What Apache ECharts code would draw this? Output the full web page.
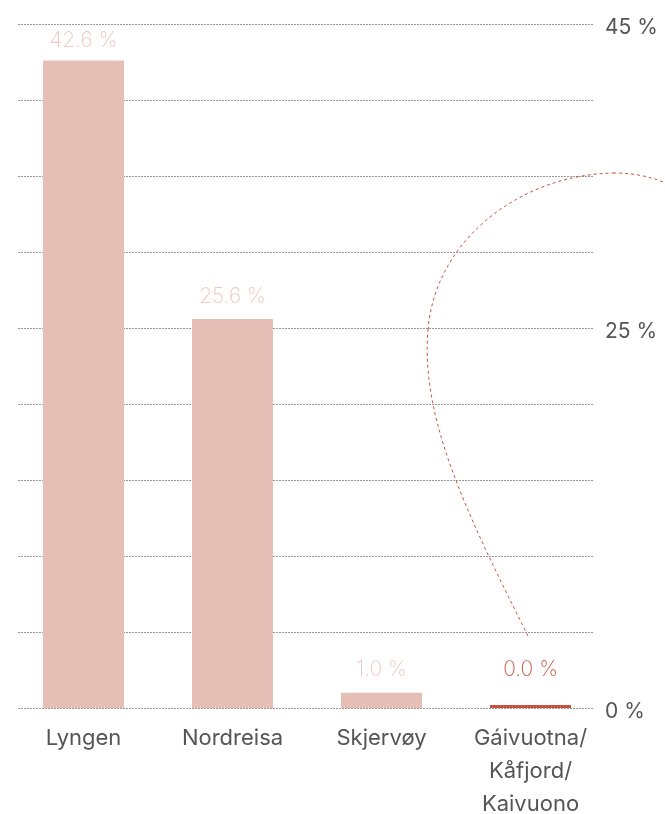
<!DOCTYPE html>
<html>
<head>
<meta charset="utf-8">
<style>
html,body{margin:0;padding:0;background:#fff;}
#chart{width:665px;height:814px;}
</style>
<script src="https://cdn.jsdelivr.net/npm/echarts@6/dist/echarts.min.js"></script>
</head>
<body>
<div id="chart"></div>
<script>
const categories = ['Lyngen', 'Nordreisa', 'Skjervøy', 'Gáivuotna/\nKåfjord/\nKaivuono'];
const values = [42.6, 25.6, 1.0, 0.0];
const yTickLabels = [0, 25, 45];
const yMax = 45;
const yStep = 5;

const barColor = '#e5bfb5';
const highlightColor = '#c9503c';
const labelPink = '#efc6bb';
const labelDistances = [9, 12, 13, 25];

const chart = echarts.init(document.getElementById('chart'));
const data = values.map((v, i) => {
  const last = i === values.length - 1;
  return {
    value: v,
    itemStyle: { color: last ? highlightColor : barColor },
    label: { color: last ? highlightColor : labelPink, distance: labelDistances[i] }
  };
});

const curveStyle = { fill: null, stroke: highlightColor, lineWidth: 1, lineDash: [3, 3] };
const curveSegs = [
  [528, 636, 470, 520, 420, 420, 428, 330],
  [428, 330, 435, 240, 520, 175, 613, 173],
  [613, 173, 635, 173, 652, 177, 668, 184]
];

chart.setOption({
  animation: false,
  grid: [
    { left: 9, right: 60, top: 24, bottom: 106, outerBoundsMode: 'none', containLabel: false },
    { left: 18, right: 71, top: 24, bottom: 106, outerBoundsMode: 'none', containLabel: false }
  ],
  xAxis: [
    {
      gridIndex: 0, type: 'category', data: categories,
      axisLine: { show: false }, axisTick: { show: false },
      axisLabel: { color: '#555', fontFamily: 'Inter', fontSize: 22, lineHeight: 33, margin: 14, interval: 0 }
    },
    { gridIndex: 1, type: 'value', min: 0, max: 1, show: false }
  ],
  yAxis: [
    { gridIndex: 0, type: 'value', min: 0, max: yMax, interval: yStep, show: false, splitLine: { show: false } },
    {
      gridIndex: 1, type: 'value', position: 'right', min: 0, max: yMax, interval: yStep,
      axisLine: { show: false }, axisTick: { show: false },
      splitLine: { show: true, lineStyle: { color: '#999', type: [2, 1], width: 1 } },
      axisLabel: {
        margin: 11, color: '#555', fontFamily: 'Inter', fontSize: 21,
        formatter: v => yTickLabels.indexOf(v) >= 0 ? '{a|' + v + ' %}' : '',
        rich: { a: { color: '#555', fontFamily: 'Inter', fontSize: 21, padding: [8, 0, 0, 0] } }
      }
    }
  ],
  series: [{
    type: 'bar', xAxisIndex: 0, yAxisIndex: 0,
    data: data, barWidth: 81, barMinHeight: 3,
    label: {
      show: true, position: 'top', fontFamily: 'Inter', fontWeight: 200, fontSize: 21,
      formatter: p => p.value.toFixed(1) + ' %'
    }
  }],
  graphic: curveSegs.map(s => ({
    type: 'bezierCurve', silent: true, z: 10,
    shape: { x1: s[0], y1: s[1], cpx1: s[2], cpy1: s[3], cpx2: s[4], cpy2: s[5], x2: s[6], y2: s[7] },
    style: curveStyle
  }))
});
</script>
</body>
</html>
